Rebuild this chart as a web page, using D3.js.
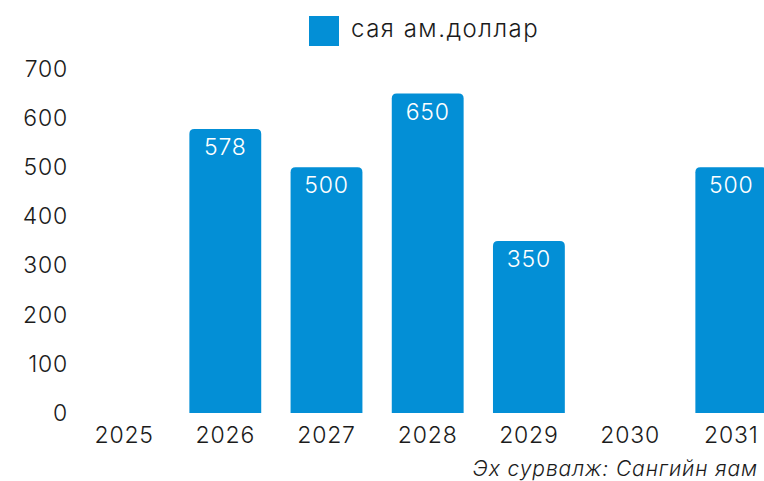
<!DOCTYPE html>
<html>
<head>
<meta charset="utf-8">
<script src="https://cdn.jsdelivr.net/npm/d3@7"></script>
<style>
  body { margin: 0; background: #fff; }
  text { font-family: "Inter", "Noto Sans", sans-serif; font-weight: 300; letter-spacing: 0.8px; }
</style>
</head>
<body>
<div id="chart"></div>
<script>
// data
var years  = ["2025", "2026", "2027", "2028", "2029", "2030", "2031"];
var values = [null, 578, 500, 650, 350, null, 500];
var yTicks = [0, 100, 200, 300, 400, 500, 600, 700];
var seriesName = "сая ам.доллар";
var sourceNote = "Эх сурвалж: Сангийн яам";

var width  = 764,
    height = 481,
    barColor = "#038fd6",
    textColor = "#1b1b1b";

var svg = d3.select("#chart").append("svg")
    .attr("width", width)
    .attr("height", height);

var x = d3.scaleBand()
    .domain(years)
    .range([73.5, 781.9])
    .paddingInner(0.29)
    .paddingOuter(0.145);

var y = d3.scaleLinear()
    .domain([0, 700])
    .range([413, 69]);

// y axis, labels only
var yAxis = svg.append("g")
    .attr("transform", "translate(68,0)")
    .call(d3.axisLeft(y).tickValues(yTicks).tickSize(0).tickPadding(0));
yAxis.select(".domain").remove();
yAxis.selectAll("text")
    .attr("font-size", 23)
    .attr("font-family", null)
    .attr("fill", textColor);

// x axis, labels only
var xAxis = svg.append("g")
    .attr("transform", "translate(0,427)")
    .call(d3.axisBottom(x).tickSize(0).tickPadding(0));
xAxis.select(".domain").remove();
xAxis.selectAll("text")
    .attr("font-size", 23)
    .attr("font-family", null)
    .attr("fill", textColor)
    .attr("dy", "0.71em");

// bar with rounded top corners
function topRounded(x0, y0, w, h, r) {
    r = Math.min(r, h, w / 2);
    return "M" + x0 + "," + (y0 + h) +
        "V" + (y0 + r) +
        "Q" + x0 + "," + y0 + " " + (x0 + r) + "," + y0 +
        "H" + (x0 + w - r) +
        "Q" + (x0 + w) + "," + y0 + " " + (x0 + w) + "," + (y0 + r) +
        "V" + (y0 + h) + "Z";
}

var data = years.map(function(d, i) { return {year: d, value: values[i]}; })
    .filter(function(d) { return d.value != null; });

svg.append("g").selectAll("path")
    .data(data).enter()
    .append("path")
    .attr("fill", barColor)
    .attr("d", function(d) {
        return topRounded(x(d.year), y(d.value), x.bandwidth(), y(0) - y(d.value), 5);
    });

svg.append("g").selectAll("text")
    .data(data).enter()
    .append("text")
    .attr("x", function(d) { return x(d.year) + x.bandwidth() / 2; })
    .attr("y", function(d) { return y(d.value) + 18; })
    .attr("dy", "0.35em")
    .attr("text-anchor", "middle")
    .attr("font-size", 23)
    .attr("fill", "#fff")
    .text(function(d) { return d.value; });

// legend
var legend = svg.append("g");
legend.append("rect")
    .attr("x", 309).attr("y", 16)
    .attr("width", 30).attr("height", 30)
    .attr("fill", barColor);
legend.append("text")
    .attr("x", 351).attr("y", 29)
    .attr("dy", "0.35em")
    .attr("font-size", 24)
    .style("letter-spacing", "1.5px")
    .attr("fill", textColor)
    .text(seriesName);

// source
svg.append("text")
    .attr("x", 758).attr("y", 476)
    .attr("text-anchor", "end")
    .attr("font-size", 21)
    .attr("font-style", "italic")
    .style("letter-spacing", "0.9px")
    .attr("fill", textColor)
    .text(sourceNote);
</script>
</body>
</html>
